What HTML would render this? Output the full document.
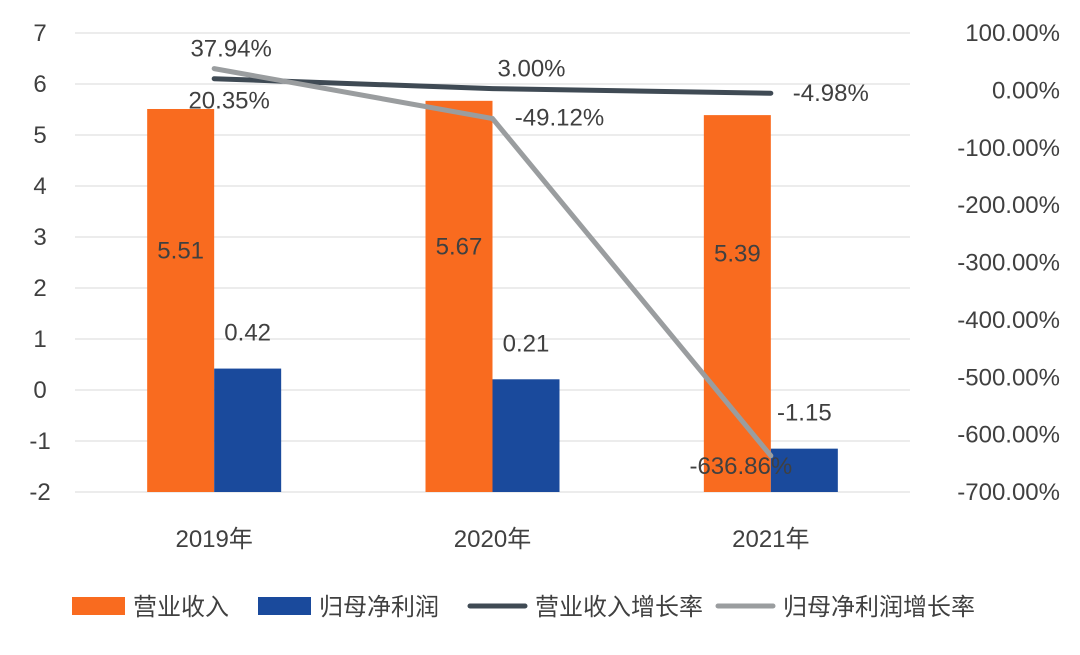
<!DOCTYPE html>
<html><head><meta charset="utf-8">
<style>
body{margin:0;background:#fff;}
svg text{font-family:"Liberation Sans","Noto Sans CJK SC",sans-serif;fill:#404040;}
</style></head>
<body>
<svg id="chart" width="1080" height="650" xmlns="http://www.w3.org/2000/svg"></svg>
<script>
const categories=["2019年","2020年","2021年"];
const revenue=[5.51,5.67,5.39];
const netProfit=[0.42,0.21,-1.15];
const revenueGrowth=[20.35,3.00,-4.98];
const profitGrowth=[37.94,-49.12,-636.86];
const leftTicks=[7,6,5,4,3,2,1,0,-1,-2];
const rightTicks=[100,0,-100,-200,-300,-400,-500,-600,-700];

const svg=document.getElementById('chart');
const NS='http://www.w3.org/2000/svg';
const X0=75,X1=910,Y0=33,Y1=492;
const yL=v=>Y1-(v+2)/9*(Y1-Y0);
const yR=v=>Y1-(v+700)/800*(Y1-Y0);
const band=(X1-X0)/categories.length;
const xC=i=>X0+band*(i+0.5);
function el(tag,attrs,parent){const e=document.createElementNS(NS,tag);for(const k in attrs)e.setAttribute(k,attrs[k]);(parent||svg).appendChild(e);return e;}
function txt(s,attrs){const t=el('text',attrs);t.textContent=s;return t;}
const FS=24;
leftTicks.forEach(v=>{
  const g=el('line',{x1:X0,x2:X1,y1:yL(v),y2:yL(v),stroke:'#d9d9d9','stroke-width':1});
  
  
  const t=txt(String(v),{x:40,y:yL(v)+8,'text-anchor':'middle','font-size':FS});
  
  
});
rightTicks.forEach(v=>{
  const t=txt(v.toFixed(2)+'%',{x:1060,y:yR(v)+8,'text-anchor':'end','font-size':FS});
  
  
});
const bw=67;
const base=yL(-2);
categories.forEach((c,i)=>{
  const cx=xC(i);
  const r=el('rect',{x:cx-bw,y:yL(revenue[i]),width:bw,height:base-yL(revenue[i]),fill:'#f96b1f'});
  
  
  const b=el('rect',{x:cx,y:yL(netProfit[i]),width:bw,height:base-yL(netProfit[i]),fill:'#1a4a9c'});
  
  
  const l1=txt(revenue[i].toFixed(2),{x:cx-bw/2,y:(yL(revenue[i])+yL(0))/2+9,'text-anchor':'middle','font-size':FS});
  
  
  const l2=txt(netProfit[i].toFixed(2),{x:cx+bw/2,y:yL(netProfit[i])-28,'text-anchor':'middle','font-size':FS});
  
  
  const ct=txt(c,{x:cx,y:547,'text-anchor':'middle','font-size':FS});
  
  
});
function linePath(arr){return arr.map((v,i)=>(i?'L':'M')+xC(i)+','+yR(v)).join(' ');}
const p1=el('path',{d:linePath(revenueGrowth),stroke:'#3f4a54','stroke-width':5,fill:'none','stroke-linecap':'round'});


const p2=el('path',{d:linePath(profitGrowth),stroke:'#9a9d9f','stroke-width':5,fill:'none','stroke-linecap':'round'});


const rgOff=[[15,30],[39,-12],[60,8]];
revenueGrowth.forEach((v,i)=>{
  const t=txt(v.toFixed(2)+'%',{x:xC(i)+rgOff[i][0],y:yR(v)+rgOff[i][1],'text-anchor':'middle','font-size':FS});
  
  
});
const pgOff=[[17,-12],[67,7],[-30,18]];
profitGrowth.forEach((v,i)=>{
  const t=txt(v.toFixed(2)+'%',{x:xC(i)+pgOff[i][0],y:yR(v)+pgOff[i][1],'text-anchor':'middle','font-size':FS});
  
  
});
const leg=[['rect','#f96b1f','营业收入',72],['rect','#1a4a9c','归母净利润',258],['line','#3f4a54','营业收入增长率',470],['line','#9a9d9f','归母净利润增长率',718]];
leg.forEach(([k,c,s,x])=>{
  let m;
  if(k==='rect')m=el('rect',{x:x,y:597,width:53,height:18,fill:c});
  else m=el('line',{x1:x,x2:x+55,y1:606,y2:606,stroke:c,'stroke-width':5,'stroke-linecap':'round'});
  
  
  const t=txt(s,{x:x+(k==='rect'?61:65),y:615,'font-size':FS});
  
  
});
</script>
</body></html>
